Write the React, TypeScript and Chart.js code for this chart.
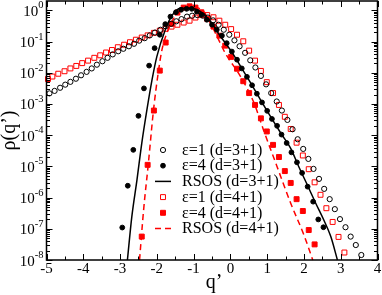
import React, { useEffect, useRef } from "react";
import { Chart, registerables } from "chart.js";

Chart.register(...registerables);

const X_MIN = -5;
const X_MAX = 4;
const Y_MIN = 1e-8;
const Y_MAX = 2;

const xTickValues = [-5, -4, -3, -2, -1, 0, 1, 2, 3, 4];
const xTickLabels = ["-5", "-4", "-3", "-2", "-1", "0", "1", "2", "3", "4"];
const yTickExponents = [-8, -7, -6, -5, -4, -3, -2, -1, 0];

const xTitle = "q\u2019";
const yTitle = "\u03c1(q\u2019)";

const seriesLabels = [
  "\u03b5=1 (d=3+1)",
  "\u03b5=4 (d=3+1)",
  "RSOS (d=3+1)",
  "\u03b5=1 (d=4+1)",
  "\u03b5=4 (d=4+1)",
  "RSOS (d=4+1)",
];

// values are log10(rho)
const eps1D3Q = [-4.92, -4.78, -4.63, -4.49, -4.35, -4.2, -4.06, -3.91, -3.77, -3.63, -3.48, -3.34, -3.2, -3.05, -2.91, -2.76, -2.62, -2.48, -2.33, -2.19, -2.05, -1.9, -1.76, -1.61, -1.47, -1.33, -1.18, -1.04, -0.9, -0.75, -0.61, -0.47, -0.32, -0.18, -0.03, 0.11, 0.25, 0.4, 0.54, 0.68, 0.83, 0.97, 1.11, 1.26, 1.4, 1.55, 1.69, 1.83, 1.98, 2.12, 2.26, 2.41, 2.55, 2.7, 2.84, 2.98, 3.13, 3.27, 3.41, 3.56];
const eps1D3Log = [-2.66, -2.58, -2.48, -2.38, -2.29, -2.19, -2.08, -1.97, -1.86, -1.74, -1.63, -1.52, -1.41, -1.31, -1.23, -1.15, -1.07, -0.97, -0.89, -0.8, -0.71, -0.62, -0.51, -0.43, -0.35, -0.28, -0.2, -0.17, -0.15, -0.17, -0.23, -0.32, -0.46, -0.62, -0.78, -0.96, -1.15, -1.36, -1.6, -1.83, -2.1, -2.37, -2.65, -2.92, -3.21, -3.51, -3.81, -4.13, -4.44, -4.76, -5.08, -5.4, -5.72, -6.05, -6.37, -6.69, -6.95, -7.25, -7.52, -7.84];

const eps4D3Q = [-2.94, -2.79, -2.64, -2.5, -2.35, -2.21, -2.06, -1.92, -1.77, -1.63, -1.48, -1.34, -1.19, -1.05, -0.91, -0.78, -0.64, -0.5, -0.37, -0.23, -0.1, 0.04, 0.18, 0.31, 0.45, 0.59, 0.72, 0.86, 1.0, 1.13, 1.27, 1.39, 1.53, 1.66, 1.81, 1.95, 2.1, 2.25, 2.39, 2.53];
const eps4D3Log = [-6.96, -5.62, -4.47, -3.38, -2.5, -1.77, -1.21, -0.78, -0.44, -0.2, -0.06, 0.02, 0.05, 0.05, -0.04, -0.14, -0.3, -0.46, -0.62, -0.81, -1.05, -1.32, -1.58, -1.86, -2.13, -2.4, -2.67, -2.95, -3.22, -3.48, -3.7, -3.98, -4.25, -4.55, -4.87, -5.21, -5.65, -6.13, -6.7, -6.95];

const rsosD3Q = [-2.8, -2.68, -2.54, -2.41, -2.27, -2.13, -2.0, -1.77, -1.59, -1.36, -1.09, -0.82, -0.55, -0.27, 0.04, 0.31, 0.59, 0.86, 1.13, 1.39, 1.64, 1.86, 2.09, 2.32, 2.54, 2.73, 2.91];
const rsosD3Log = [-8.0, -6.61, -5.43, -4.26, -3.19, -2.22, -1.48, -0.62, -0.17, 0.07, 0.07, -0.03, -0.35, -0.83, -1.34, -1.86, -2.4, -2.95, -3.48, -3.97, -4.42, -5.01, -5.59, -6.18, -6.72, -7.25, -8.0];

const eps1D4Q = [-4.96, -4.84, -4.68, -4.51, -4.35, -4.19, -4.03, -3.87, -3.7, -3.54, -3.38, -3.22, -3.06, -2.89, -2.73, -2.57, -2.41, -2.25, -2.08, -1.92, -1.76, -1.6, -1.44, -1.27, -1.11, -0.95, -0.79, -0.63, -0.46, -0.3, -0.14, 0.02, 0.18, 0.35, 0.51, 0.67, 0.83, 0.99, 1.16, 1.32, 1.48, 1.64, 1.8, 1.97, 2.13, 2.29, 2.45, 2.61, 2.78, 2.94, 3.1];
const eps1D4Log = [-2.2, -2.12, -2.03, -1.95, -1.86, -1.78, -1.69, -1.61, -1.52, -1.44, -1.35, -1.27, -1.18, -1.1, -1.02, -0.94, -0.87, -0.8, -0.72, -0.65, -0.59, -0.52, -0.46, -0.39, -0.33, -0.23, -0.15, -0.15, -0.22, -0.33, -0.46, -0.6, -0.78, -0.99, -1.29, -1.61, -1.94, -2.3, -2.65, -3.03, -3.41, -3.8, -4.24, -4.65, -5.09, -5.51, -5.91, -6.34, -6.78, -7.26, -7.76];

const eps4D4Q = [-2.41, -2.25, -2.08, -1.92, -1.76, -1.6, -1.44, -1.27, -1.11, -0.95, -0.79, -0.63, -0.46, -0.3, -0.14, 0.02, 0.18, 0.35, 0.51, 0.67, 0.83, 0.99, 1.16, 1.32, 1.48, 1.64, 1.8, 1.97, 2.13, 2.29];
const eps4D4Log = [-7.25, -4.95, -3.21, -1.93, -1.03, -0.43, -0.07, 0.09, 0.13, 0.09, -0.06, -0.27, -0.52, -0.81, -1.13, -1.49, -1.87, -2.27, -2.65, -3.03, -3.46, -3.88, -4.31, -4.7, -5.15, -5.53, -6.05, -6.43, -7.04, -7.5];

const rsosD4Q = [-2.47, -2.36, -2.23, -2.09, -1.95, -1.86, -1.73, -1.59, -1.41, -1.23, -1.06, -0.9, -0.73, -0.5, -0.32, -0.14, 0.27, 0.63, 0.9, 1.27, 1.64, 2.0, 2.24];
const rsosD4Log = [-8.0, -6.4, -4.9, -3.19, -1.9, -1.26, -0.73, -0.35, -0.08, 0.08, 0.12, 0.09, -0.03, -0.51, -0.94, -1.37, -2.11, -2.93, -3.83, -5.01, -6.18, -7.2, -8.0];

const FONT = '"Liberation Serif", "Times New Roman", "DejaVu Serif", serif';
const RED = "#ff0000";

function toPoints(q: number[], lg: number[]) {
  return q.map((x, i) => ({ x, y: Math.pow(10, lg[i]) }));
}

const overlayPlugin = {
  id: "overlay",
  afterDatasetsDraw(chart: any) {
    const { ctx, chartArea: a } = chart;
    const xs = chart.scales.x;
    const ys = chart.scales.y;
    ctx.save();
    ctx.strokeStyle = "#000";
    ctx.fillStyle = "#000";
    ctx.setLineDash([]);

    // inward ticks on all four sides
    ctx.lineWidth = 1;
    ctx.beginPath();
    for (let i = 0; i <= (X_MAX - X_MIN) * 2; i++) {
      const v = X_MIN + i * 0.5;
      const len = i % 2 === 0 ? 6 : 3.5;
      const px = Math.round(xs.getPixelForValue(v)) + 0.5;
      ctx.moveTo(px, a.bottom);
      ctx.lineTo(px, a.bottom - len);
      ctx.moveTo(px, a.top);
      ctx.lineTo(px, a.top + len);
    }
    for (let e = -8; e <= 0; e++) {
      for (let m = 1; m <= 9; m++) {
        const v = m * Math.pow(10, e);
        if (v >= Y_MAX) break;
        const len = m === 1 ? 6 : 3.5;
        const py = Math.round(ys.getPixelForValue(v)) + 0.5;
        ctx.moveTo(a.left, py);
        ctx.lineTo(a.left + len, py);
        ctx.moveTo(a.right, py);
        ctx.lineTo(a.right - len, py);
      }
    }
    ctx.stroke();

    // frame
    ctx.lineWidth = 1.5;
    ctx.strokeRect(a.left, a.top, a.right - a.left, a.bottom - a.top);

    // x tick labels
    ctx.font = `15px ${FONT}`;
    ctx.textAlign = "center";
    ctx.textBaseline = "middle";
    xTickValues.forEach((v, i) => {
      ctx.fillText(xTickLabels[i], xs.getPixelForValue(v), a.bottom + 9);
    });

    // y tick labels 10^e
    ctx.textBaseline = "alphabetic";
    ctx.textAlign = "left";
    yTickExponents.forEach((e) => {
      const py = ys.getPixelForValue(Math.pow(10, e));
      ctx.font = `10.5px ${FONT}`;
      const exp = String(e);
      const w2 = ctx.measureText(exp).width;
      ctx.font = `15px ${FONT}`;
      const w1 = ctx.measureText("10").width;
      const right = a.left - 3;
      ctx.fillText("10", right - w2 - w1, py + 5.5);
      ctx.font = `10.5px ${FONT}`;
      ctx.fillText(exp, right - w2, py - 2);
    });

    // axis titles
    ctx.font = `20px ${FONT}`;
    ctx.textAlign = "center";
    ctx.fillText(xTitle, (a.left + a.right) / 2 + 2, 288);
    ctx.save();
    ctx.translate(15, (a.top + a.bottom) / 2);
    ctx.rotate(-Math.PI / 2);
    ctx.fillText(yTitle, 0, 0);
    ctx.restore();

    // legend inside the plot
    const symX = 163;
    const textX = 182;
    const rowY0 = 150;
    const rowH = 15.7;
    ctx.font = `16px ${FONT}`;
    ctx.textAlign = "left";
    ctx.textBaseline = "middle";
    chart.data.datasets.forEach((ds: any, i: number) => {
      const y = rowY0 + i * rowH;
      if (ds.showLine === false) {
        const r = ds.pointRadius;
        ctx.beginPath();
        if (ds.pointStyle === "rect") {
          const s = Math.SQRT1_2 * r;
          ctx.rect(symX - s, y - s, 2 * s, 2 * s);
        } else {
          ctx.arc(symX, y, r, 0, Math.PI * 2);
        }
        ctx.lineWidth = ds.pointBorderWidth;
        ctx.strokeStyle = ds.pointBorderColor;
        if (ds.pointBackgroundColor !== "rgba(0,0,0,0)") {
          ctx.fillStyle = ds.pointBackgroundColor;
          ctx.fill();
        }
        ctx.stroke();
      } else {
        ctx.beginPath();
        ctx.lineWidth = ds.borderWidth;
        ctx.strokeStyle = ds.borderColor;
        ctx.setLineDash(ds.borderDash || []);
        ctx.moveTo(symX - 8, y);
        ctx.lineTo(symX + 8, y);
        ctx.stroke();
        ctx.setLineDash([]);
      }
      ctx.fillStyle = "#000";
      ctx.fillText(ds.label, textX, y + 0.5);
    });
    ctx.restore();
  },
};

export default function App() {
  const ref = useRef<HTMLCanvasElement>(null);

  useEffect(() => {
    document.body.style.margin = "0";
    const canvas = ref.current;
    if (!canvas) return;
    const marker = (label: string, q: number[], lg: number[], style: string, color: string, filled: boolean, r: number) => ({
      label,
      data: toPoints(q, lg),
      showLine: false,
      pointStyle: style,
      pointRadius: r,
      pointBorderWidth: 1,
      pointBorderColor: color,
      pointBackgroundColor: filled ? color : "rgba(0,0,0,0)",
      borderColor: color,
      backgroundColor: filled ? color : "rgba(0,0,0,0)",
      clip: false,
    });
    const curve = (label: string, q: number[], lg: number[], color: string, dash: number[]) => ({
      label,
      data: toPoints(q, lg),
      showLine: true,
      pointRadius: 0,
      borderColor: color,
      borderWidth: 1.5,
      borderDash: dash,
      cubicInterpolationMode: "monotone",
      fill: false,
      clip: false,
    });
    const chart = new Chart(canvas, {
      type: "line",
      data: {
        datasets: [
          marker(seriesLabels[0], eps1D3Q, eps1D3Log, "circle", "#000", false, 2.6),
          marker(seriesLabels[1], eps4D3Q, eps4D3Log, "circle", "#000", true, 2.4),
          curve(seriesLabels[2], rsosD3Q, rsosD3Log, "#000", []),
          marker(seriesLabels[3], eps1D4Q, eps1D4Log, "rect", RED, false, 3.5),
          marker(seriesLabels[4], eps4D4Q, eps4D4Log, "rect", RED, true, 3.5),
          curve(seriesLabels[5], rsosD4Q, rsosD4Log, RED, [6, 4]),
        ] as any,
      },
      options: {
        responsive: false,
        animation: false,
        events: [],
        layout: { padding: { top: 1, right: 4.5, left: 0, bottom: 0 }, autoPadding: false } as any,
        plugins: { legend: { display: false }, tooltip: { enabled: false } },
        scales: {
          x: {
            type: "linear",
            min: X_MIN,
            max: X_MAX,
            grid: { display: false },
            border: { display: false },
            ticks: { display: false },
            afterFit: (s: any) => {
              s.height = 35;
            },
          },
          y: {
            type: "logarithmic",
            min: Y_MIN,
            max: Y_MAX,
            grid: { display: false },
            border: { display: false },
            ticks: { display: false },
            afterFit: (s: any) => {
              s.width = 46.5;
            },
          },
        },
      },
      plugins: [overlayPlugin],
    });
    return () => chart.destroy();
  }, []);

  return (
    <div style={{ width: 382, height: 295 }}>
      <canvas ref={ref} width={382} height={295} style={{ display: "block", width: 382, height: 295 }} />
    </div>
  );
}
